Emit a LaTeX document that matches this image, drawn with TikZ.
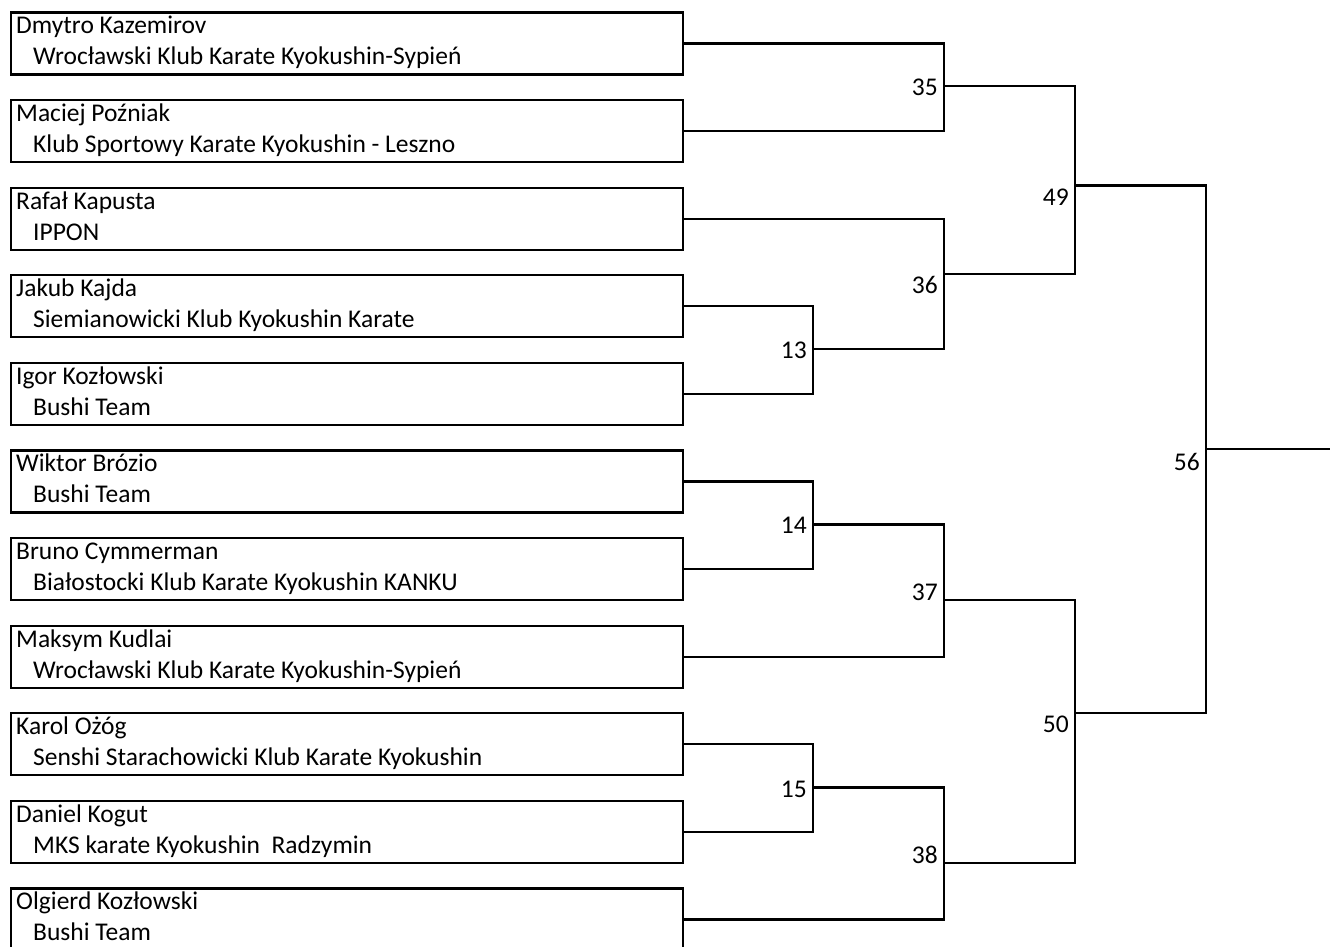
\documentclass[tikz,border=0pt]{standalone}
\usepackage{fontspec}
\setmainfont{Carlito}
\newcommand\entrant[4]{%
  \node[pbox] (#1) at (10,#2) {};
  \node[ptxt] (#1n) at (16,#2+22.5) {#3};
  \node[ptxt] (#1c) at (33,#2+53.5) {#4};}
\begin{document}
\begin{tikzpicture}[x=1pt,y=-1pt,
  pbox/.style={draw, line width=2.2pt, rectangle, minimum width=672pt, minimum height=62pt, inner sep=0pt, anchor=north west},
  ptxt/.style={inner sep=0pt, anchor=base west, font=\fontsize{25.5}{30}\selectfont},
  mnum/.style={inner sep=0pt, anchor=base east, font=\fontsize{25.5}{30}\selectfont},
  conn/.style={draw, line width=2.2pt}]
\useasboundingbox (0,0) rectangle (1330,947);
\entrant{b1}{11.5}{Dmytro Kazemirov}{Wrocławski Klub Karate Kyokushin-Sypień}
\entrant{b2}{99}{Maciej Poźniak}{Klub Sportowy Karate Kyokushin - Leszno}
\entrant{b3}{186.6}{Rafał Kapusta}{IPPON}
\entrant{b4}{274.2}{Jakub Kajda}{Siemianowicki Klub Kyokushin Karate}
\entrant{b5}{361.8}{Igor Kozłowski}{Bushi Team}
\entrant{b6}{449.4}{Wiktor Brózio}{Bushi Team}
\entrant{b7}{537}{Bruno Cymmerman}{Białostocki Klub Karate Kyokushin KANKU}
\entrant{b8}{624.6}{Maksym Kudlai}{Wrocławski Klub Karate Kyokushin-Sypień}
\entrant{b9}{712.2}{Karol Ożóg}{Senshi Starachowicki Klub Karate Kyokushin}
\entrant{b10}{799.8}{Daniel Kogut}{MKS karate Kyokushin\ \ Radzymin}
\entrant{b11}{887.4}{Olgierd Kozłowski}{Bushi Team}
% match points
\coordinate (m13) at (813,349);
\coordinate (m14) at (813,524.5);
\coordinate (m15) at (813,787.5);
\coordinate (m35) at (944,86);
\coordinate (m36) at (944,274);
\coordinate (m37) at (944,600);
\coordinate (m38) at (944,863);
\coordinate (m49) at (1075,185.5);
\coordinate (m50) at (1075,713);
\coordinate (m56) at (1206,449);
\coordinate (fin) at (1332,449);
% labels
\node[mnum] (l13) at (807,358) {13};
\node[mnum] (l14) at (807,533) {14};
\node[mnum] (l15) at (807,797) {15};
\node[mnum] (l35) at (938,95.5) {35};
\node[mnum] (l36) at (938,293) {36};
\node[mnum] (l37) at (938,600) {37};
\node[mnum] (l38) at (938,863) {38};
\node[mnum] (l49) at (1069,205) {49};
\node[mnum] (l50) at (1069,732) {50};
\node[mnum] (l56) at (1200,470) {56};
% connectors
\draw[conn] (b4.east) -| (m13) |- (b5.east);
\draw[conn] (b6.east) -| (m14) |- (b7.east);
\draw[conn] (b9.east) -| (m15) |- (b10.east);
\draw[conn] (b1.east) -| (m35) |- (b2.east);
\draw[conn] (b3.east) -| (m36) |- (m13);
\draw[conn] (m14) -| (m37) |- (b8.east);
\draw[conn] (m15) -| (m38) |- (b11.east);
\draw[conn] (m35) -| (m49) |- (m36);
\draw[conn] (m37) -| (m50) |- (m38);
\draw[conn] (m49) -| (m56) |- (m50);
\draw[conn] (m56) -- (fin);
\end{tikzpicture}
\end{document}
